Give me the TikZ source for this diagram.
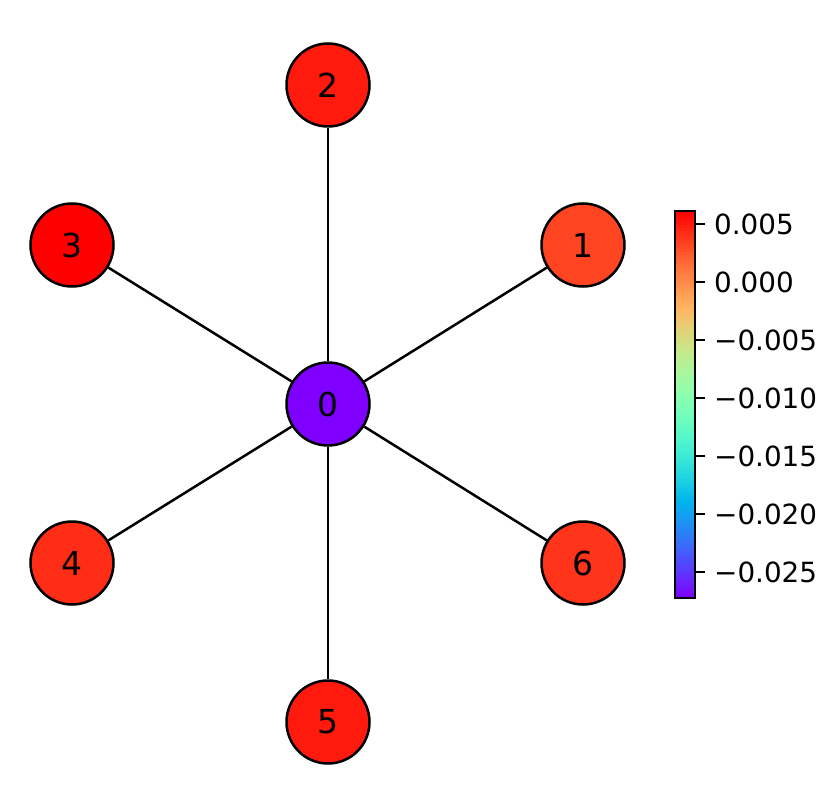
\documentclass[tikz,border=0pt]{standalone}
\usepackage{fontspec}
\setmainfont{DejaVu Sans}
\begin{document}
\begin{tikzpicture}[x=1pt,y=-1pt,
  gnode/.style={circle,draw=black,line width=2.5pt,minimum size=83pt,inner sep=0pt,font=\fontsize{33}{33}\selectfont},
  gedge/.style={draw=black,line width=2.5pt},
  ticklab/.style={anchor=west,inner sep=0pt,font=\fontsize{27.8}{27.8}\selectfont},
  cbline/.style={black,line width=2pt}]
\useasboundingbox (0,0) rectangle (832,810);
\definecolor{c0}{RGB}{128,0,255}
\definecolor{c1}{RGB}{255,68,34}
\definecolor{c2}{RGB}{255,26,13}
\definecolor{c3}{RGB}{255,0,0}
\definecolor{c4}{RGB}{255,44,22}
\definecolor{c5}{RGB}{255,26,13}
\definecolor{c6}{RGB}{255,52,26}
% nodes
\node[gnode,fill=c0] (n0) at (328,404) {0};
\node[gnode,fill=c1] (n1) at (583,245) {1};
\node[gnode,fill=c2] (n2) at (328,85) {2};
\node[gnode,fill=c3] (n3) at (72,245) {3};
\node[gnode,fill=c4] (n4) at (72,563) {4};
\node[gnode,fill=c5] (n5) at (328,722) {5};
\node[gnode,fill=c6] (n6) at (583,563) {6};
% edges
\foreach \m in {1,...,6}{\draw[gedge] (n0) -- (n\m);}
% colorbar
\begin{scope}
\clip (675,211) rectangle (695,598);
\foreach \i in {0,...,128}{
  \pgfmathsetmacro\cbt{\i/128}
  \pgfmathsetmacro\cbr{min(1,abs(2*\cbt-0.5))}
  \pgfmathsetmacro\cbg{max(0,min(1,sin(180*\cbt)))}
  \pgfmathsetmacro\cbb{max(0,min(1,cos(90*\cbt)))}
  \definecolor{cbc}{rgb}{\cbr,\cbg,\cbb}
  \fill[cbc] (675,{598-\cbt*387+2}) rectangle (695,{598-\cbt*387-2});
}
\end{scope}
\draw[cbline] (675,211) rectangle (695,598);
\foreach \k/\lab in {0/0.005,1/0.000,2/{\char"2212 0.005},3/{\char"2212 0.010},4/{\char"2212 0.015},5/{\char"2212 0.020},6/{\char"2212 0.025}}{
  \draw[cbline] (695,{224+58*\k}) -- (705,{224+58*\k});
  \node[ticklab] (t\k) at (714,{224+58*\k}) {\lab};
}
\end{tikzpicture}
\end{document}
